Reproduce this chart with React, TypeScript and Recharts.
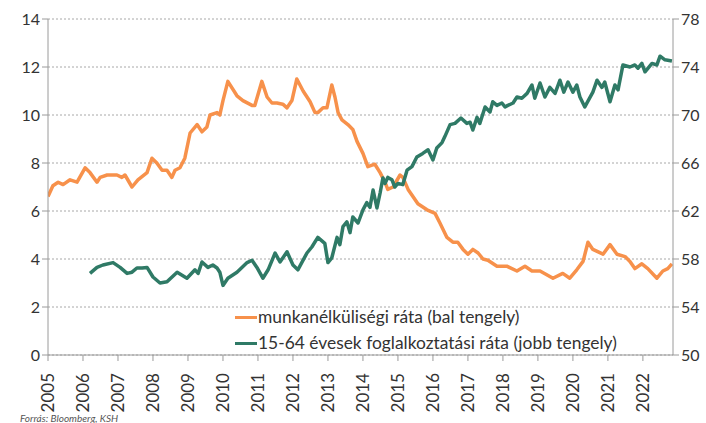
import { LineChart, Line, XAxis, YAxis, CartesianGrid } from "recharts";

// decimal years
const unempDates = [
  2005.0, 2005.14, 2005.29, 2005.43, 2005.63, 2005.83, 2006.06, 2006.2, 2006.4, 2006.49, 2006.69, 2006.97,
  2007.11, 2007.2, 2007.4, 2007.57, 2007.83, 2007.97, 2008.11, 2008.26, 2008.4, 2008.54, 2008.63, 2008.77,
  2008.91, 2009.06, 2009.26, 2009.4, 2009.54, 2009.63, 2009.83, 2009.91, 2010.0, 2010.14, 2010.4, 2010.57,
  2010.83, 2010.91, 2011.11, 2011.26, 2011.4, 2011.54, 2011.71, 2011.83, 2011.97, 2012.11, 2012.29, 2012.49,
  2012.63, 2012.71, 2012.86, 2012.97, 2013.11, 2013.2, 2013.29, 2013.4, 2013.57, 2013.71, 2013.83, 2014.0,
  2014.14, 2014.34, 2014.49, 2014.63, 2014.71, 2014.86, 2015.06, 2015.14, 2015.29, 2015.57, 2015.83, 2016.06,
  2016.2, 2016.4, 2016.57, 2016.71, 2016.86, 2017.0, 2017.14, 2017.29, 2017.43, 2017.57, 2017.83, 2018.11,
  2018.4, 2018.63, 2018.83, 2019.06, 2019.43, 2019.71, 2019.91, 2020.11, 2020.29, 2020.43, 2020.57, 2020.86,
  2021.06, 2021.26, 2021.49, 2021.63, 2021.77, 2021.97, 2022.14, 2022.4, 2022.57, 2022.71, 2022.83,
];
const unempValues = [
  6.6, 7.05, 7.2, 7.1, 7.3, 7.2, 7.8, 7.6, 7.2, 7.4, 7.5, 7.5,
  7.4, 7.5, 7.0, 7.3, 7.6, 8.2, 8.0, 7.7, 7.7, 7.4, 7.7, 7.8,
  8.2, 9.25, 9.6, 9.3, 9.5, 10.0, 10.1, 10.0, 10.6, 11.4, 10.8, 10.6,
  10.4, 10.4, 11.4, 10.75, 10.5, 10.5, 10.45, 10.3, 10.6, 11.5, 11.0, 10.55,
  10.1, 10.1, 10.3, 10.3, 11.25, 10.75, 10.1, 9.8, 9.6, 9.4, 8.9, 8.4,
  7.85, 7.95, 7.6, 7.2, 6.9, 7.0, 7.5, 7.4, 6.9, 6.3, 6.05, 5.9,
  5.5, 4.9, 4.7, 4.7, 4.4, 4.2, 4.4, 4.25, 4.0, 3.95, 3.7, 3.7,
  3.5, 3.7, 3.5, 3.5, 3.2, 3.4, 3.2, 3.55, 3.9, 4.7, 4.4, 4.2,
  4.6, 4.2, 4.1, 3.9, 3.6, 3.8, 3.6, 3.2, 3.5, 3.6, 3.8,
];

const emplDates = [
  2006.2, 2006.4, 2006.57, 2006.86, 2007.06, 2007.26, 2007.4, 2007.54, 2007.69, 2007.83, 2008.0, 2008.2,
  2008.4, 2008.69, 2008.97, 2009.2, 2009.29, 2009.4, 2009.57, 2009.71, 2009.83, 2009.91, 2010.0, 2010.14,
  2010.4, 2010.69, 2010.83, 2010.97, 2011.14, 2011.29, 2011.49, 2011.63, 2011.83, 2012.0, 2012.14, 2012.4,
  2012.54, 2012.71, 2012.91, 2013.0, 2013.11, 2013.26, 2013.34, 2013.43, 2013.54, 2013.63, 2013.71, 2013.86,
  2014.0, 2014.11, 2014.2, 2014.29, 2014.4, 2014.49, 2014.57, 2014.63, 2014.71, 2014.83, 2014.91, 2015.0,
  2015.14, 2015.26, 2015.4, 2015.54, 2015.71, 2015.86, 2016.0, 2016.11, 2016.26, 2016.34, 2016.49, 2016.63,
  2016.8, 2016.97, 2017.06, 2017.14, 2017.26, 2017.34, 2017.49, 2017.63, 2017.71, 2017.83, 2017.97, 2018.06,
  2018.14, 2018.29, 2018.4, 2018.54, 2018.69, 2018.83, 2018.91, 2019.06, 2019.2, 2019.34, 2019.49, 2019.63,
  2019.74, 2019.86, 2020.0, 2020.11, 2020.2, 2020.34, 2020.57, 2020.69, 2020.83, 2020.91, 2021.06, 2021.2,
  2021.29, 2021.43, 2021.63, 2021.77, 2021.86, 2021.97, 2022.06, 2022.26, 2022.4, 2022.49, 2022.63, 2022.83,
];
const emplValues = [
  56.8, 57.3, 57.5, 57.7, 57.3, 56.8, 56.9, 57.25, 57.25, 57.3, 56.5, 56.0,
  56.1, 56.9, 56.4, 57.1, 56.8, 57.75, 57.3, 57.5, 57.25, 56.9, 55.8, 56.4,
  56.9, 57.7, 57.9, 57.3, 56.4, 57.1, 58.5, 57.75, 58.6, 57.5, 57.1, 58.5,
  59.0, 59.8, 59.3, 57.7, 58.1, 59.8, 59.2, 60.7, 61.1, 60.2, 61.5, 61.0,
  62.1, 62.7, 62.3, 63.75, 62.25, 63.5, 64.75, 64.3, 64.8, 64.6, 64.0, 64.3,
  64.2, 65.4, 65.7, 66.5, 66.8, 67.1, 66.25, 67.25, 67.7, 68.2, 69.2, 69.3,
  69.75, 69.3, 69.4, 68.75, 69.8, 69.3, 70.67, 70.25, 71.1, 70.8, 71.0, 70.67,
  70.8, 71.0, 71.5, 71.4, 71.8, 72.5, 71.4, 72.67, 71.5, 72.3, 71.8, 72.9,
  71.9, 72.75, 71.9, 72.5, 71.5, 70.67, 71.9, 72.9, 72.3, 72.75, 71.1, 72.5,
  72.1, 74.17, 74.0, 74.17, 73.9, 74.3, 73.6, 74.3, 74.17, 74.9, 74.6, 74.5,
];

const yearTicks = [
  2005, 2006, 2007, 2008, 2009, 2010, 2011, 2012, 2013, 2014, 2015, 2016, 2017, 2018, 2019, 2020, 2021, 2022,
];
const leftTicks = [0, 2, 4, 6, 8, 10, 12, 14];
const rightTicks = [50, 54, 58, 62, 66, 70, 74, 78];

const seriesNames = ["munkanélküliségi ráta (bal tengely)", "15-64 évesek foglalkoztatási ráta (jobb tengely)"];
const seriesColors = ["#f7914b", "#2f7a66"];

const unempData = unempDates.map((t, i) => ({ t, v: unempValues[i] }));
const emplData = emplDates.map((t, i) => ({ t, v: emplValues[i] }));

const FONT = "Lato, 'Open Sans', sans-serif";
const AXIS = "#9a9a9a";

const YearTick = ({ x, y, payload }: any) => (
  <text
    x={x}
    y={y + 10}
    transform={`rotate(-90 ${x} ${y + 10})`}
    textAnchor="end"
    dy="0.36em"
    fill="#333"
    fontSize={17}
    fontFamily={FONT}
  >
    {payload.value}
  </text>
);

export default function App() {
  return (
    <div style={{ position: "absolute", left: 0, top: 0, width: 706, height: 423, background: "#fff" }}>
      <LineChart width={706} height={423} margin={{ top: 19, right: 0, bottom: 0, left: 0 }}>
        <CartesianGrid yAxisId="left" vertical={false} stroke="#a8a8a8" strokeDasharray="2 2" />
        <XAxis
          dataKey="t"
          type="number"
          domain={[2005, 2022.86]}
          ticks={yearTicks}
          allowDataOverflow
          height={68}
          stroke={AXIS}
          tickSize={6}
          tick={<YearTick />}
          interval={0}
        />
        <YAxis
          yAxisId="left"
          domain={[0, 14]}
          ticks={leftTicks}
          width={48}
          stroke={AXIS}
          tickSize={6}
          tick={{ fill: "#333", fontSize: 16, fontFamily: FONT }}
          interval={0}
        />
        <YAxis
          yAxisId="right"
          orientation="right"
          domain={[50, 78]}
          ticks={rightTicks}
          width={33}
          stroke={AXIS}
          tickSize={6}
          tick={{ fill: "#333", fontSize: 16, fontFamily: FONT }}
          interval={0}
        />
        <Line
          yAxisId="left"
          data={unempData}
          dataKey="v"
          name={seriesNames[0]}
          type="linear"
          stroke={seriesColors[0]}
          strokeWidth={3.5}
          strokeLinejoin="round"
          dot={false}
          isAnimationActive={false}
        />
        <Line
          yAxisId="right"
          data={emplData}
          dataKey="v"
          name={seriesNames[1]}
          type="linear"
          stroke={seriesColors[1]}
          strokeWidth={3.5}
          strokeLinejoin="round"
          dot={false}
          isAnimationActive={false}
        />
      </LineChart>
      <div
        style={{
          position: "absolute",
          left: 235,
          top: 304,
          fontFamily: FONT,
          fontSize: 17.4,
          color: "#333",
          lineHeight: "26px",
        }}
      >
        {seriesNames.map((name, i) => (
          <div key={name} style={{ display: "flex", alignItems: "center", whiteSpace: "nowrap" }}>
            <span style={{ display: "inline-block", width: 22, height: 3, background: seriesColors[i], marginRight: 1 }} />
            {name}
          </div>
        ))}
      </div>
      <div
        style={{
          position: "absolute",
          left: 20,
          top: 412,
          fontFamily: FONT,
          fontStyle: "italic",
          fontSize: 10,
          color: "#555",
        }}
      >
        Forrás: Bloomberg, KSH
      </div>
    </div>
  );
}
